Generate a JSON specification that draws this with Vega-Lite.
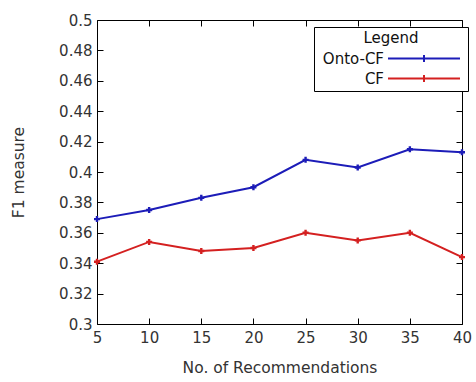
{
  "$schema": "https://vega.github.io/schema/vega-lite/v6.json",
  "width": 365,
  "height": 304,
  "autosize": "none",
  "padding": {"left": 97, "top": 20, "right": 14, "bottom": 58},
  "background": "white",
  "config": {
    "view": {"stroke": "#000", "strokeWidth": 1},
    "font": "DejaVu Sans",
    "axis": {
      "grid": false,
      "domain": false,
      "tickColor": "#000",
      "tickSize": -6,
      "labelFont": "DejaVu Sans",
      "labelFontSize": 15,
      "labelColor": "#333",
      "labelOverlap": false,
      "labelFlush": false,
      "labelBound": false,
      "titleFont": "DejaVu Sans",
      "titleFontSize": 15.5,
      "titleFontWeight": "normal",
      "titleColor": "#333"
    }
  },
  "data": {
    "values": [
      {"n": 5, "f1": 0.369, "method": "Onto-CF"},
      {"n": 10, "f1": 0.375, "method": "Onto-CF"},
      {"n": 15, "f1": 0.383, "method": "Onto-CF"},
      {"n": 20, "f1": 0.390, "method": "Onto-CF"},
      {"n": 25, "f1": 0.408, "method": "Onto-CF"},
      {"n": 30, "f1": 0.403, "method": "Onto-CF"},
      {"n": 35, "f1": 0.415, "method": "Onto-CF"},
      {"n": 40, "f1": 0.413, "method": "Onto-CF"},
      {"n": 5, "f1": 0.341, "method": "CF"},
      {"n": 10, "f1": 0.354, "method": "CF"},
      {"n": 15, "f1": 0.348, "method": "CF"},
      {"n": 20, "f1": 0.350, "method": "CF"},
      {"n": 25, "f1": 0.360, "method": "CF"},
      {"n": 30, "f1": 0.355, "method": "CF"},
      {"n": 35, "f1": 0.360, "method": "CF"},
      {"n": 40, "f1": 0.344, "method": "CF"}
    ]
  },
  "resolve": {"axis": {"x": "independent", "y": "independent"}},
  "layer": [
    {
      "mark": {"type": "line", "strokeWidth": 2},
      "encoding": {
        "x": {"field": "n", "type": "quantitative", "scale": {"domain": [5, 40], "nice": false},
              "axis": {"orient": "bottom", "values": [5,10,15,20,25,30,35,40], "title": "No. of Recommendations", "labelPadding": 12, "titlePadding": 15}},
        "y": {"field": "f1", "type": "quantitative", "scale": {"domain": [0.3, 0.5], "nice": false, "zero": false},
              "axis": {"orient": "left", "values": [0.3,0.32,0.34,0.36,0.38,0.4,0.42,0.44,0.46,0.48,0.5], "format": ".2~f", "title": "F1 measure", "labelPadding": 11, "titlePadding": 32}},
        "color": {"field": "method", "type": "nominal",
                  "scale": {"domain": ["Onto-CF", "CF"], "range": ["#1c1cb8", "#d42020"]},
                  "legend": {
                    "orient": "none", "legendX": 217, "legendY": 7,
                    "title": "Legend", "titleAnchor": "middle", "titleFontSize": 15, "titleFontWeight": "normal", "titleColor": "#111", "titlePadding": 5,
                    "labelFontSize": 15, "labelColor": "#111", "labelOffset": 15,
                    "symbolType": "M-7.2,0L7.2,0M0,-0.7L0,0.7M-0.7,0L0.7,0", "symbolStrokeWidth": 2, "symbolSize": 100,
                    "strokeColor": "#000", "padding": 4, "fillColor": "white",
                    "rowPadding": 4,
                    "encode": {
                      "labels": {"update": {"x": {"value": 66}, "align": {"value": "right"}}},
                      "symbols": {"update": {"x": {"value": 106}}}
                    }
                  }}
      }
    },
    {
      "mark": {"type": "point", "shape": "cross", "filled": true, "size": 36, "opacity": 1},
      "encoding": {
        "x": {"field": "n", "type": "quantitative", "axis": null},
        "y": {"field": "f1", "type": "quantitative", "axis": null},
        "color": {"field": "method", "type": "nominal", "legend": null}
      }
    },
    {
      "mark": {"type": "point", "opacity": 0},
      "encoding": {
        "x": {"field": "n", "type": "quantitative",
              "axis": {"orient": "top", "values": [5,10,15,20,25,30,35,40], "labels": false, "title": null}},
        "y": {"field": "f1", "type": "quantitative",
              "axis": {"orient": "right", "values": [0.3,0.32,0.34,0.36,0.38,0.4,0.42,0.44,0.46,0.48,0.5], "labels": false, "title": null}}
      }
    }
  ]
}
